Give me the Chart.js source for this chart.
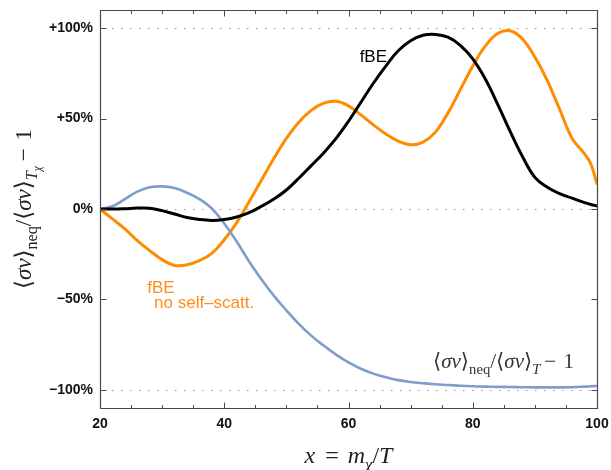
<!DOCTYPE html>
<html><head><meta charset="utf-8">
<script src="https://cdn.jsdelivr.net/npm/chart.js@4.4.1/dist/chart.umd.min.js"></script>
<style>html,body{margin:0;padding:0;background:#fff;}#wrap{width:611px;height:470px;position:relative;}</style>
</head><body><div id="wrap"><canvas id="c" width="611" height="470"></canvas></div>
<script>
// ---- data ----
const xValues = [20,22,24,26,28,30,32,34,36,38,40,42,44,46,48,50,52,54,56,58,60,62,64,66,68,70,72,74,76,78,80,82,84,86,88,90,92,94,96,98,99,100];
// <σv>neq/<σv>T − 1 (blue)
const neqOverT = [0,1.5,5.5,9.6,12,12.5,11.6,9,5.5,0.3,-8,-18,-29,-39,-48,-56,-63.5,-70,-75.5,-80.5,-84.8,-88.3,-91,-93,-94.6,-95.6,-96.3,-96.9,-97.3,-97.7,-98,-98.2,-98.3,-98.4,-98.5,-98.6,-98.6,-98.6,-98.5,-98.2,-98,-97.8];
// fBE (black)
const fBE = [0,0,0.2,0.5,0.4,-0.9,-2.8,-4.7,-5.8,-6.3,-5.8,-4.4,-2,1.5,5.5,10.5,17,24,31,39,48.5,59,69.5,79,87.5,93,96,96.5,95,90.5,83,72,58,43,29,17.5,12,8.5,6,3.5,2.5,1.7];
// fBE no self-scatt. (orange)
const fBENoSelf = [0,-5.5,-11,-17.5,-23,-28,-31.2,-30.8,-28.5,-24.5,-17,-7.5,4,16,28,39,48,54.5,58.5,59.5,57,52,46.5,41.5,37.5,35.5,37,42.5,53,66,79,90,97,98.5,94,84,71,55,39,30.5,25,14];
const xTickValues = [20,40,60,80,100];
const yTickValues = [-100,-50,0,50,100];
const yTickLabels = ['−100%','−50%','0%','+50%','+100%'];
const gridValues = [-100,0,100];

const SERIF = '"Liberation Serif","DejaVu Serif",serif';
function segFont(s, size){
  const fs = s.sub ? size*0.7 : (s.subsub ? size*0.5 : size);
  return (s.it ? 'italic ' : '') + fs + 'px ' + SERIF;
}
function richWidth(ctx, segs, size){
  let w = 0;
  for (const s of segs){ ctx.font = segFont(s,size); w += ctx.measureText(s.t).width + (s.gap||0); }
  return w;
}
function drawRich(ctx, segs, x, y, size, color, align){
  const w = richWidth(ctx, segs, size);
  let cx = align === 'center' ? x - w/2 : x;
  ctx.fillStyle = color; ctx.textBaseline = 'alphabetic'; ctx.textAlign = 'left';
  for (const s of segs){
    ctx.font = segFont(s,size);
    const dy = s.sub ? size*0.28 : (s.subsub ? size*0.45 : 0);
    ctx.fillText(s.t, cx, y + dy);
    cx += ctx.measureText(s.t).width + (s.gap||0);
  }
}

const deco = {
  id: 'deco',
  beforeDatasetsDraw(chart){
    const {ctx, chartArea:a, scales:{y}} = chart;
    ctx.save();
    ctx.strokeStyle = '#8c8c8c'; ctx.lineWidth = 1.2; ctx.setLineDash([1.4,7.6]);
    for (const v of gridValues){
      const py = Math.round(y.getPixelForValue(v)) + 0.5;
      ctx.beginPath(); ctx.moveTo(a.left+3, py); ctx.lineTo(a.right, py); ctx.stroke();
    }
    ctx.restore();
  },
  afterDatasetsDraw(chart){
    const {ctx, chartArea:a, scales:{x,y}} = chart;
    ctx.save();
    ctx.strokeStyle = '#4a4a4a'; ctx.lineWidth = 1.2; ctx.setLineDash([]);
    const L = Math.round(a.left)+0.5, R = Math.round(a.right)+0.5, T = Math.round(a.top)+0.5, B = Math.round(a.bottom)+0.5;
    ctx.beginPath(); ctx.moveTo(L,T); ctx.lineTo(R,T); ctx.lineTo(R,B); ctx.lineTo(L,B); ctx.closePath(); ctx.stroke();
    ctx.lineWidth = 1;
    for (let v = 20; v <= 100; v += 5){
      const px = Math.round(x.getPixelForValue(v)) + 0.5;
      const len = v % 20 === 0 ? 6 : 3.5;
      ctx.beginPath(); ctx.moveTo(px,B); ctx.lineTo(px,B-len); ctx.moveTo(px,T); ctx.lineTo(px,T+len); ctx.stroke();
    }
    for (const v of yTickValues){
      const py = Math.round(y.getPixelForValue(v)) + 0.5;
      ctx.beginPath(); ctx.moveTo(L,py); ctx.lineTo(L+6,py); ctx.moveTo(R,py); ctx.lineTo(R-6,py); ctx.stroke();
    }
    // curve labels
    ctx.textBaseline = 'alphabetic';
    ctx.font = '17px "Liberation Sans", Arial, sans-serif';
    ctx.fillStyle = '#000'; ctx.textAlign = 'center';
    ctx.fillText('fBE', x.getPixelForValue(64), y.getPixelForValue(81));
    ctx.fillStyle = '#ff8c1a';
    ctx.fillText('fBE', x.getPixelForValue(29.8), y.getPixelForValue(-46.3));
    ctx.textAlign = 'left';
    ctx.fillText('no self–scatt.', x.getPixelForValue(28.7), y.getPixelForValue(-54.8));
    const blueLabel = [{t:'⟨'},{t:'σv',it:true},{t:'⟩'},{t:'neq',sub:true},{t:'/⟨'},{t:'σv',it:true},{t:'⟩'},{t:'T',sub:true,it:true,gap:4},{t:'− ',gap:2},{t:'1'}];
    drawRich(ctx, blueLabel, x.getPixelForValue(73.6), y.getPixelForValue(-87.8), 21, '#333', 'left');
    // axis titles
    const xTitle = [{t:'x',it:true,gap:10},{t:'=',gap:9},{t:'m',it:true},{t:'χ',sub:true,it:true},{t:'/',gap:0},{t:'T',it:true}];
    drawRich(ctx, xTitle, (a.left+a.right)/2, 463, 24, '#222', 'center');
    const yTitle = [{t:'⟨'},{t:'σv',it:true},{t:'⟩'},{t:'neq',sub:true},{t:'/⟨'},{t:'σv',it:true},{t:'⟩'},{t:'T',sub:true,it:true},{t:'χ',subsub:true,it:true,gap:5},{t:'− ',gap:2},{t:'1'}];
    ctx.translate(31, (a.top+a.bottom)/2);
    ctx.rotate(-Math.PI/2);
    drawRich(ctx, yTitle, 0, 0, 23, '#222', 'center');
    ctx.restore();
  }
};

const mk = (arr) => xValues.map((xv,i) => ({x: xv, y: arr[i]}));
const lineStyle = {pointRadius:0, tension:0.4, cubicInterpolationMode:'default', fill:false, borderJoinStyle:'round', borderCapStyle:'round'};
new Chart(document.getElementById('c'), {
  type: 'line',
  data: { datasets: [
    Object.assign({label:'fBE', data: mk(fBE), borderColor:'#000000', borderWidth:3, order:0}, lineStyle),
    Object.assign({label:'neq/T', data: mk(neqOverT), borderColor:'#7f9dcb', borderWidth:2.6, order:1}, lineStyle),
    Object.assign({label:'fBE no self-scatt.', data: mk(fBENoSelf), borderColor:'#ff8c00', borderWidth:3, order:2}, lineStyle)
  ]},
  options: {
    responsive:false, animation:false, devicePixelRatio:1,
    layout:{padding:{top:10,right:14,left:0,bottom:0}},
    plugins:{legend:{display:false}, tooltip:{enabled:false}},
    scales:{
      x:{type:'linear', min:20, max:100,
         afterBuildTicks: s => { s.ticks = xTickValues.map(v => ({value:v})); },
         grid:{display:false, drawTicks:false}, border:{display:false},
         ticks:{font:{family:'"Liberation Sans", Arial, sans-serif', weight:'bold', size:14}, color:'#111', padding:8, maxRotation:0, autoSkip:false},
         afterFit: s => { s.height = 62; s.paddingLeft = 0; s.paddingRight = 0; }},
      y:{type:'linear', min:-110, max:110,
         afterBuildTicks: s => { s.ticks = yTickValues.map(v => ({value:v})); },
         grid:{display:false, drawTicks:false}, border:{display:false},
         ticks:{callback: v => yTickLabels[yTickValues.indexOf(v)], font:{family:'"Liberation Sans", Arial, sans-serif', weight:'bold', size:14}, color:'#111', padding:7, autoSkip:false},
         afterFit: s => { s.width = 100; s.paddingTop = 0; s.paddingBottom = 0; }}
    }
  },
  plugins:[deco]
});
</script></body></html>
